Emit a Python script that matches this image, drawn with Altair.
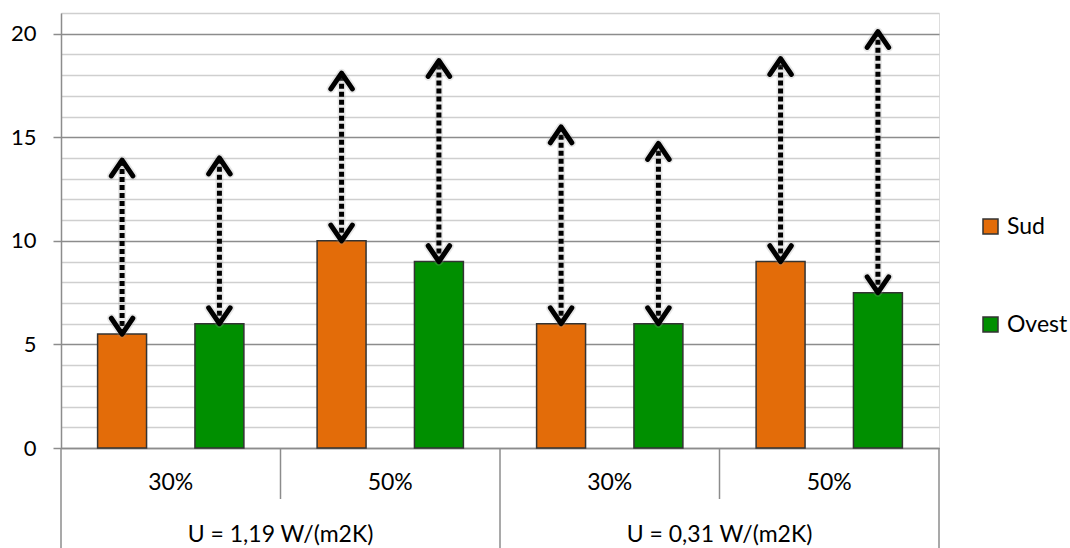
import altair as alt
import pandas as pd

# Chart values
groups = ["U = 1,19 W/(m2K)", "U = 1,19 W/(m2K)", "U = 0,31 W/(m2K)", "U = 0,31 W/(m2K)"]
ratios = ["30%", "50%", "30%", "50%"]
series = ["Sud", "Ovest"]
sud = [5.5, 10, 6, 9]
ovest = [6, 9, 6, 7.5]
sud_top = [13.9, 18.1, 15.5, 18.8]
ovest_top = [14.0, 18.7, 14.7, 20.1]
y_ticks = list(range(0, 22))

colors = ["#E36C09", "#008F00"]
FONT = "Lato"

cats = [f"{g} | {r}" for g, r in zip(groups, ratios)]

rows = []
for i, c in enumerate(cats):
    rows.append({"cat": c, "serie": "Sud", "value": sud[i], "top": sud_top[i]})
    rows.append({"cat": c, "serie": "Ovest", "value": ovest[i], "top": ovest_top[i]})
df = pd.DataFrame(rows)

xscale = alt.Scale(domain=cats, paddingInner=0, paddingOuter=0)
xoff = alt.XOffset("serie:N", sort=series,
                   scale=alt.Scale(domain=series, paddingInner=0.497, paddingOuter=0.376))
x_main = alt.X("cat:N", scale=xscale, title=None,
               axis=alt.Axis(labels=False, ticks=False, domain=True,
                             domainColor="#8c8c8c", domainWidth=1.5, grid=False))

yaxis = alt.Axis(
    values=y_ticks,
    tickCount=40,
    format="d",
    title=None,
    grid=True,
    gridColor=alt.ConditionalAxisColor(
        condition={"test": "datum.value % 5 === 0", "value": "#8c8c8c"}, value="#cfcfcf"),
    gridWidth=1.5,
    tickColor=alt.ConditionalAxisColor(
        condition={"test": "datum.value % 5 === 0", "value": "#8c8c8c"}, value="transparent"),
    tickSize=8,
    tickWidth=1.5,
    labelExpr="datum.value % 5 === 0 ? datum.label : ''",
    labelOverlap=False,
    labelFlush=False,
    labelFont=FONT,
    labelFontSize=22,
    labelColor="black",
    labelPadding=17,
    domainColor="#8c8c8c",
    domainWidth=1.5,
)
yscale = alt.Scale(domain=[0, 21], nice=False)

base = alt.Chart(df)

bars = base.mark_bar(stroke="#333333", strokeWidth=1.5).encode(
    x=x_main,
    xOffset=xoff,
    y=alt.Y("value:Q", scale=yscale, axis=yaxis),
    color=alt.Color("serie:N", sort=series,
                    scale=alt.Scale(domain=series, range=colors),
                    legend=alt.Legend(title=None, orient="none", legendX=918, legendY=202,
                                      symbolType="square", symbolSize=225,
                                      symbolStrokeColor="#333333", symbolStrokeWidth=1.5,
                                      labelFont=FONT, labelFontSize=23, labelColor="black",
                                      labelOffset=5, rowPadding=74, padding=0)),
)

# Double-headed dotted arrows above each bar
x_arrow = alt.X("cat:N", scale=xscale)
halo_rule = base.mark_rule(stroke="#999999", strokeWidth=8, opacity=0.22).encode(
    x=x_arrow, xOffset=xoff,
    y=alt.Y("value:Q", scale=yscale), y2="top:Q",
)
dotted = base.mark_rule(stroke="black", strokeWidth=5, strokeDash=[5, 3]).encode(
    x=x_arrow, xOffset=xoff,
    y=alt.Y("value:Q", scale=yscale), y2="top:Q",
)

up_path = "M -0.68 1 L 0 0 L 0.68 1"
down_path = "M -0.68 -1 L 0 0 L 0.68 -1"

def head(path, field, color, width, opacity):
    return base.mark_point(shape=path, filled=False, size=1000, stroke=color,
                           strokeWidth=width, strokeCap="round", strokeJoin="round",
                           opacity=opacity).encode(
        x=x_arrow, xOffset=xoff, y=alt.Y(f"{field}:Q", scale=yscale))

heads = [
    head(up_path, "top", "#999999", 8.5, 0.22),
    head(down_path, "value", "#999999", 8.5, 0.22),
    head(up_path, "top", "black", 5, 1),
    head(down_path, "value", "black", 5, 1),
]

# Two-level category axis drawn below the plot
ratio_df = pd.DataFrame({"cat": cats, "label": ratios})
ratio_text = alt.Chart(ratio_df).mark_text(font=FONT, fontSize=23, color="black",
                                           baseline="middle").encode(
    x=alt.X("cat:N", scale=xscale), y=alt.value(470), text="label:N")

group_df = pd.DataFrame({"cat": [cats[0], cats[2]], "label": [groups[0], groups[2]]})
group_text = alt.Chart(group_df).mark_text(font=FONT, fontSize=23, color="black",
                                           baseline="middle").encode(
    x=alt.X("cat:N", scale=xscale, bandPosition=1), y=alt.value(522), text="label:N")

long_left = pd.DataFrame({"cat": [cats[0], cats[2]]})
sep_long = alt.Chart(long_left).mark_rule(stroke="#8c8c8c", strokeWidth=1.5).encode(
    x=alt.X("cat:N", scale=xscale, bandPosition=0), y=alt.value(435), y2=alt.value(535))
sep_end = alt.Chart(pd.DataFrame({"cat": [cats[3]]})).mark_rule(
    stroke="#8c8c8c", strokeWidth=1.5).encode(
    x=alt.X("cat:N", scale=xscale, bandPosition=1), y=alt.value(435), y2=alt.value(535))
sep_short = alt.Chart(pd.DataFrame({"cat": [cats[1], cats[3]]})).mark_rule(
    stroke="#8c8c8c", strokeWidth=1.5).encode(
    x=alt.X("cat:N", scale=xscale, bandPosition=0), y=alt.value(435), y2=alt.value(486))

chart = alt.layer(
    bars, halo_rule, dotted, *heads, ratio_text, group_text, sep_long, sep_end, sep_short
).properties(
    width=878,
    height=435,
    autosize=alt.AutoSizeParams(type="none"),
    padding={"left": 61, "top": 13, "right": 131, "bottom": 100},
).configure_view(stroke=None).configure(background="white")

chart.save("out.html", embed_options={"renderer": "svg", "actions": False})
